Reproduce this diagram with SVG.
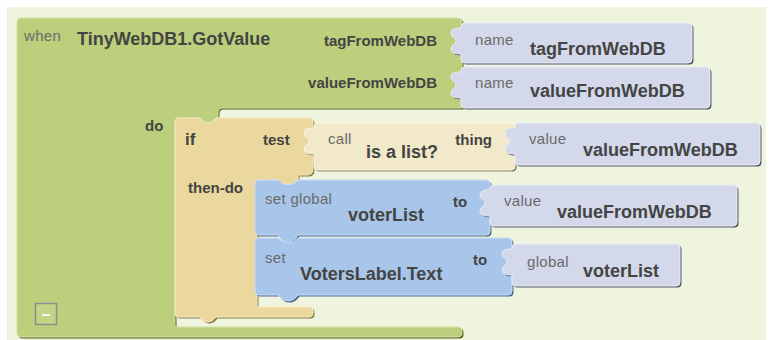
<svg xmlns="http://www.w3.org/2000/svg" xmlns:xlink="http://www.w3.org/1999/xlink" width="771" height="340" viewBox="0 0 771 340">
<defs>
<style>
.b{font-family:"Liberation Sans",Arial,sans-serif;font-weight:bold;fill:#444;}
.big{font-size:18px;}
.mid{font-size:15px;}
.sm{font-family:"Liberation Sans",Arial,sans-serif;font-size:15px;fill:#6a6a6a;letter-spacing:0.3px;}
.end{text-anchor:end;}
.green{fill:#bccf7c;stroke:#d2e09f;stroke-width:1;}
.green-sh{fill:#56632b;}
.tan{fill:#ebd89f;stroke:#f6e8c0;stroke-width:1;}
.tan-sh{fill:#8c7b46;}
.call{fill:#f1e9c9;stroke:#faf4df;stroke-width:1;}
.call-sh{fill:#8a8260;}
.blue{fill:#a8c6e9;stroke:#c8dcf3;stroke-width:1;}
.blue-sh{fill:#4c6a8d;}
.lav{fill:#d3d9ea;stroke:#e9edf6;stroke-width:1;}
.lav-sh{fill:#55596a;}
</style>
<path id="p-event" d="M17 22 Q17 18 21 18 H458 Q462 18 462 22 V108 H222 Q218 108 218 112 V118 H216 Q212 123 208 123 Q204 123 200 118 H175 V327 H458 Q462 327 462 331 V333 Q462 337 458 337 H21 Q17 337 17 333 Z"/>
<path id="p-name1" d="M465 23 H688 Q692 23 692 27 V59 Q692 63 688 63 H465 Q461 63 461 59 V54 C456 54 451 53.5 451 49 C451 44.5 456 45 456 41 C456 37 451 37.5 451 33 C451 28.5 456 28 461 28 V27 Q461 23 465 23 Z"/>
<path id="p-name2" d="M465 67 H706 Q710 67 710 71 V104 Q710 108 706 108 H465 Q461 108 461 104 V98 C456 98 451 97.5 451 93 C451 88.5 456 89 456 85 C456 81 451 81.5 451 77 C451 72.5 456 72 461 72 V71 Q461 67 465 67 Z"/>
<path id="p-if" d="M175 122 Q175 118 179 118 H200 Q204 123 208 123 Q212 123 216 118 H309 Q313 118 313 122 V169 Q313 175 307 175 H298 V180 Q294 185 288 185 Q282 185 278 180 H257 V307 H309 Q313 307 313 311 V313 Q313 317 309 317 H216 Q212 322 208 322 Q204 322 200 317 H179 Q175 317 175 313 Z"/>
<path id="p-call" d="M318 123 H511 Q515 123 515 127 V166 Q515 170 511 170 H318 Q314 170 314 166 V154 C309 154 304 153.5 304 149 C304 144.5 309 145 309 141 C309 137 304 137.5 304 133 C304 128.5 309 128 314 128 V127 Q314 123 318 123 Z"/>
<path id="p-val1" d="M519 123 H756 Q760 123 760 127 V161 Q760 165 756 165 H519 Q515 165 515 161 V154 C510 154 505 153.5 505 149 C505 144.5 510 145 510 141 C510 137 505 137.5 505 133 C505 128.5 510 128 515 128 V127 Q515 123 519 123 Z"/>
<path id="p-set1" d="M259 180 H278 Q282 185 288 185 Q294 185 298 180 H486 Q490 180 490 184 V231 Q490 235 486 235 H298 Q294 242 288 242 Q282 242 278 235 H259 Q255 235 255 231 V184 Q255 180 259 180 Z"/>
<path id="p-val2" d="M494 185 H733 Q737 185 737 189 V222 Q737 226 733 226 H494 Q490 226 490 222 V216 C485 216 480 215.5 480 211 C480 206.5 485 207 485 203 C485 199 480 199.5 480 195 C480 190.5 485 190 490 190 V189 Q490 185 494 185 Z"/>
<path id="p-set2" d="M259 238 H278 Q282 243 288 243 Q294 243 298 238 H508 Q512 238 512 242 V291 Q512 295 508 295 H298 Q294 301 288 301 Q282 301 278 295 H259 Q255 295 255 291 V242 Q255 238 259 238 Z"/>
<path id="p-glob" d="M516 244 H676 Q680 244 680 248 V282 Q680 286 676 286 H516 Q512 286 512 282 V275 C507 275 502 274.5 502 270 C502 265.5 507 266 507 262 C507 258 502 258.5 502 254 C502 249.5 507 249 512 249 V248 Q512 244 516 244 Z"/>
</defs>
<rect x="0" y="0" width="771" height="340" fill="#ffffff"/>
<rect x="7" y="7" width="759" height="333" fill="#eff4de"/>

<g id="connectors"></g>

<g id="event-gotvalue">
<use xlink:href="#p-event" class="green-sh" transform="translate(1.5,1.5)"/>
<use xlink:href="#p-event" class="green"/>
<text x="24" y="41" class="sm">when</text>
<text x="77" y="45" class="b big">TinyWebDB1.GotValue</text>
<text x="437" y="46" class="b mid end">tagFromWebDB</text>
<text x="437" y="88" class="b mid end">valueFromWebDB</text>
<text x="145" y="131" class="b mid">do</text>
<rect x="35.5" y="303.5" width="21" height="21" fill="#c2d486" stroke="#8c8c8c" stroke-width="1.5"/>
<line x1="42" y1="315" x2="50" y2="315" stroke="#f4f4f4" stroke-width="2"/>
</g>

<g id="name-tag">
<use xlink:href="#p-name1" class="lav-sh" transform="translate(1.5,1.5)"/>
<use xlink:href="#p-name1" class="lav"/>
<text x="475" y="45" class="sm">name</text>
<text x="530" y="55" class="b big">tagFromWebDB</text>
</g>

<g id="name-value">
<use xlink:href="#p-name2" class="lav-sh" transform="translate(1.5,1.5)"/>
<use xlink:href="#p-name2" class="lav"/>
<text x="475" y="88" class="sm">name</text>
<text x="530" y="97" class="b big">valueFromWebDB</text>
</g>

<g id="if-block">
<use xlink:href="#p-if" class="tan-sh" transform="translate(1.5,1.5)"/>
<use xlink:href="#p-if" class="tan"/>
<text x="185" y="145" class="b" font-size="17">if</text>
<text x="263" y="145" class="b mid">test</text>
<text x="188" y="193" class="b mid">then-do</text>
</g>

<g id="call-islist">
<use xlink:href="#p-call" class="call-sh" transform="translate(1.5,1.5)"/>
<use xlink:href="#p-call" class="call"/>
<text x="328" y="144" class="sm">call</text>
<text x="366" y="158" class="b big">is a list?</text>
<text x="492" y="145" class="b mid end">thing</text>
</g>

<g id="value-thing">
<use xlink:href="#p-val1" class="lav-sh" transform="translate(1.5,1.5)"/>
<use xlink:href="#p-val1" class="lav"/>
<text x="529" y="144" class="sm">value</text>
<text x="583" y="156" class="b big">valueFromWebDB</text>
</g>

<g id="set-global">
<use xlink:href="#p-set1" class="blue-sh" transform="translate(1.5,1.5)"/>
<use xlink:href="#p-set1" class="blue"/>
<text x="265" y="204" class="sm">set global</text>
<text x="348" y="221" class="b big">voterList</text>
<text x="453" y="207" class="b mid">to</text>
</g>

<g id="value-to">
<use xlink:href="#p-val2" class="lav-sh" transform="translate(1.5,1.5)"/>
<use xlink:href="#p-val2" class="lav"/>
<text x="504" y="206" class="sm">value</text>
<text x="557" y="218" class="b big">valueFromWebDB</text>
</g>

<g id="set-label">
<use xlink:href="#p-set2" class="blue-sh" transform="translate(1.5,1.5)"/>
<use xlink:href="#p-set2" class="blue"/>
<text x="265" y="263" class="sm">set</text>
<text x="300" y="280" class="b big">VotersLabel.Text</text>
<text x="473" y="265" class="b mid">to</text>
</g>

<g id="global-voterlist">
<use xlink:href="#p-glob" class="lav-sh" transform="translate(1.5,1.5)"/>
<use xlink:href="#p-glob" class="lav"/>
<text x="527" y="267" class="sm">global</text>
<text x="583" y="277" class="b big">voterList</text>
</g>
</svg>
